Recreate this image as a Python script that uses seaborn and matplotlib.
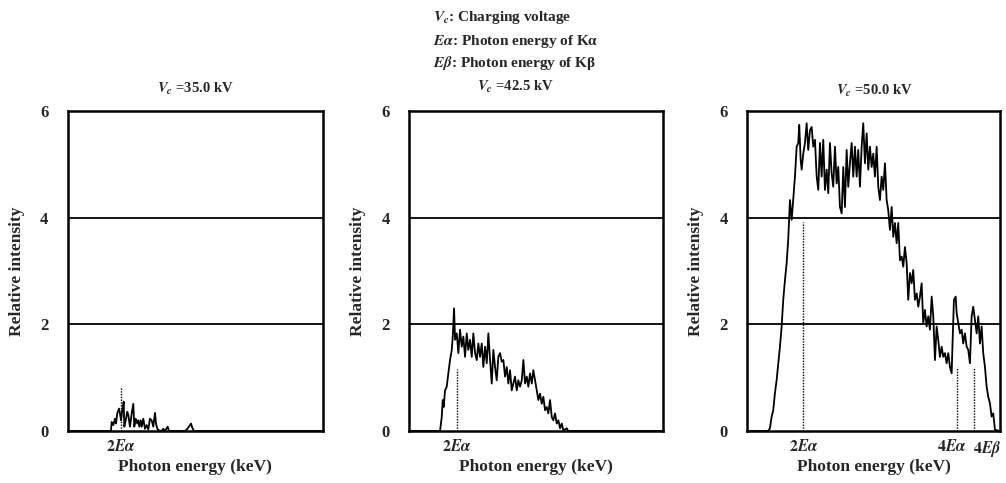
import matplotlib
matplotlib.use("Agg")
import matplotlib.pyplot as plt
import matplotlib.transforms as mtransforms
import numpy as np
import pandas as pd
import seaborn as sns

# --- Spectra (photon energy in keV, relative intensity) ---
P1_E = [22.0, 31.9, 32.08, 32.45, 32.84, 33.07, 33.36, 33.75, 33.98, 34.21,
        34.51, 34.83, 34.97, 35.29, 35.65, 35.88, 36.27, 36.66, 37.03, 37.26,
        37.58, 37.95, 38.17, 38.40, 38.72, 38.95, 39.32, 39.71, 40.10, 40.47,
        40.85, 41.24, 41.61, 42.00, 42.23, 42.53, 42.92, 43.54, 43.90, 44.29,
        44.91, 45.21, 48.87, 49.40, 49.86, 50.25, 50.55, 50.94, 80.5]
P1_I = [0, 0, 0.17, 0.11, 0.23, 0.14, 0.33, 0.42, 0.33, 0.2,
        0.39, 0.55, 0.08, 0.2, 0.36, 0.3, 0.08, 0.33, 0.51, 0.08,
        0.23, 0.14, 0.2, 0.08, 0.2, 0.08, 0.23, 0.04, 0.11, 0.03,
        0.23, 0.2, 0.08, 0.34, 0.14, 0.04, 0.01, 0, 0.04, 0,
        0.08, 0, 0, 0.04, 0.09, 0.14, 0.06, 0, 0]

P2_E = [22.0, 29.15, 29.54, 29.77, 30.0, 30.30, 30.69, 31.06, 31.45, 31.85,
        32.08, 32.38, 32.61, 33.00, 33.37, 33.76, 34.15, 34.52, 34.91, 35.31,
        35.67, 36.07, 36.46, 36.83, 37.22, 37.61, 37.98, 38.37, 38.76, 39.13,
        39.53, 39.92, 40.29, 40.68, 41.07, 41.44, 41.83, 42.22, 42.59, 42.98,
        43.38, 43.75, 44.14, 44.53, 44.90, 45.29, 45.68, 46.05, 46.44, 46.84,
        47.20, 47.60, 47.99, 48.36, 48.75, 49.14, 49.51, 49.90, 50.30, 50.66,
        51.06, 51.45, 51.82, 52.21, 52.60, 52.97, 53.36, 53.76, 54.12, 54.51,
        54.91, 55.28, 55.67, 56.06, 56.43, 56.82, 57.21, 57.58, 58.37, 58.73,
        80.5]
P2_I = [0, 0, 0.26, 0.58, 0.45, 0.76, 0.83, 1.08, 1.33, 1.52,
        1.77, 2.3, 1.71, 1.83, 1.46, 1.9, 1.58, 1.77, 1.39, 1.83,
        1.52, 1.71, 1.39, 1.83, 1.46, 1.33, 1.64, 1.39, 1.64, 1.2,
        1.58, 1.27, 1.83, 1.33, 0.89, 1.52, 1.2, 0.95, 1.39, 1.46,
        1.3, 1.33, 1.02, 1.2, 0.89, 1.14, 0.76, 0.89, 1.02, 0.76,
        0.95, 0.83, 0.95, 1.33, 0.89, 1.02, 0.83, 1.08, 0.89, 1.14,
        0.95, 0.76, 0.58, 0.7, 0.51, 0.64, 0.39, 0.45, 0.33, 0.58,
        0.26, 0.2, 0.33, 0.14, 0.2, 0.05, 0.14, 0.01, 0.05, 0,
        0]

P3_E = [22.0, 26.79, 27.25, 27.64, 28.01, 28.40, 28.80, 29.17, 29.56, 29.95,
        30.32, 30.72, 31.11, 31.48, 31.87, 32.27, 33.03, 33.42, 33.79, 34.02,
        34.35, 34.58, 34.95, 35.34, 35.73, 36.10, 36.50, 36.89, 37.26, 37.65,
        38.05, 38.42, 38.81, 39.20, 39.57, 39.96, 40.36, 40.73, 41.12, 41.51,
        41.88, 42.28, 42.67, 43.04, 43.43, 43.83, 44.20, 44.59, 44.98, 45.35,
        45.74, 46.14, 46.51, 46.90, 47.29, 47.66, 48.06, 48.45, 48.82, 49.21,
        49.61, 49.98, 50.37, 50.76, 51.13, 51.52, 51.92, 52.29, 52.68, 53.07,
        53.44, 53.84, 54.23, 54.60, 54.99, 55.39, 55.76, 56.15, 56.54, 56.91,
        57.30, 57.70, 58.07, 58.46, 58.85, 59.22, 59.62, 60.01, 60.38, 60.77,
        61.17, 61.54, 61.93, 62.32, 62.69, 63.08, 63.48, 63.85, 64.24, 64.64,
        65.01, 65.40, 65.79, 66.16, 66.55, 66.95, 67.32, 67.71, 68.10, 68.47,
        68.87, 69.26, 69.49, 69.79, 70.19, 70.42, 70.79, 71.18, 71.57, 71.94,
        72.33, 72.73, 73.10, 73.49, 73.88, 74.25, 74.64, 75.04, 75.41, 75.80,
        76.19, 76.56, 76.96, 77.35, 77.72, 78.11, 78.50, 78.88, 79.27, 80.5]
P3_I = [0, 0, 0.05, 0.27, 0.39, 0.71, 0.96, 1.27, 1.58, 1.96,
        2.46, 2.83, 3.15, 3.6, 4.33, 3.96, 4.77, 5.33, 5.4, 5.74,
        5.08, 4.9, 5.2, 5.4, 5.77, 5.27, 5.64, 5.7, 5.33, 5.46,
        4.77, 4.52, 5.4, 4.77, 5.46, 4.52, 4.9, 4.46, 5.4, 4.83,
        4.58, 5.33, 4.64, 4.95, 4.2, 4.08, 4.95, 4.2, 5.27, 4.58,
        5.02, 5.4, 4.77, 5.33, 4.77, 5.27, 4.58, 5.33, 5.77, 5.02,
        5.58, 4.9, 5.33, 4.95, 5.2, 4.77, 5.33, 4.58, 4.33, 4.77,
        4.52, 5.02, 4.33, 4.14, 3.77, 4.2, 3.64, 3.9, 3.52, 3.9,
        3.2, 3.27, 3.08, 3.45, 3.15, 2.46, 2.96, 2.77, 3.02, 2.46,
        2.58, 2.33, 2.52, 2.77, 2.02, 2.27, 1.96, 2.15, 1.9, 2.52,
        2.15, 1.33, 1.96, 1.71, 1.39, 1.58, 1.39, 1.46, 1.27, 1.46,
        1.2, 1.08, 1.71, 2.46, 2.52, 2.21, 2.02, 1.83, 1.9, 1.64,
        1.83, 1.58, 1.52, 1.27, 2.15, 2.33, 2.08, 1.83, 2.15, 1.64,
        1.96, 1.46, 1.2, 0.83, 0.64, 0.52, 0.27, 0.33, 0.02, 0]

# Characteristic-line markers (position in keV, height of dotted line)
MARK_X = [[34.21], [33.14], [35.0, 70.6, 74.4]]
MARK_TOP = [[0.83], [1.17], [3.92, 1.2, 1.2]]
MARK_LABELS = [[r"$2E\alpha$"], [r"$2E\alpha$"],
               [r"$2E\alpha$", r"$4E\alpha$", r"$4E\beta$"]]
# small horizontal nudges (px) so the crowded 4E labels don't collide
LABEL_SHIFT = [[0], [0], [0, -6, 13]]

VOLTAGES = ["35.0", "42.5", "50.0"]
Y_TICKS = [0, 2, 4, 6]
X_RANGE = (22.0, 80.5)

sns.set_theme(style="white")
plt.rcParams.update({
    "font.family": ["Liberation Serif", "DejaVu Serif"],
    "font.weight": "bold",
    "mathtext.fontset": "stix",
})

fig = plt.figure(figsize=(10.06, 4.83), dpi=100)

# axes boxes in figure fraction (left, bottom, width, height)
boxes = [
    (0.0673, 0.1077, 0.2538, 0.6625),
    (0.4066, 0.1077, 0.2522, 0.6625),
    (0.7428, 0.1077, 0.2515, 0.6625),
]
spectra = [(P1_E, P1_I), (P2_E, P2_I), (P3_E, P3_I)]
title_x = [195, 515, 874]
title_y = [89, 87, 91]

for k, (box, (energy, inten)) in enumerate(zip(boxes, spectra)):
    ax = fig.add_axes(box)
    df = pd.DataFrame({"energy": energy, "intensity": inten})
    sns.lineplot(data=df, x="energy", y="intensity", ax=ax, color="black",
                 linewidth=1.3, estimator=None, sort=False)

    for y in (2, 4):
        ax.axhline(y, color="black", linewidth=1.3, zorder=1)

    for mx, mt in zip(MARK_X[k], MARK_TOP[k]):
        ax.plot([mx, mx], [0, mt], color="black", linestyle=(0, (1, 1)),
                linewidth=1.0)

    ax.set_xlim(*X_RANGE)
    ax.set_ylim(0, 6)
    ax.set_yticks(Y_TICKS)
    ax.set_yticklabels([str(t) for t in Y_TICKS], fontsize=12, fontweight="bold")
    ax.set_xticks(MARK_X[k])
    ax.set_xticklabels(MARK_LABELS[k], fontsize=11.5)
    ax.tick_params(axis="both", length=0)
    ax.tick_params(axis="y", pad=14)
    ax.tick_params(axis="x", pad=6)
    for lab, dx in zip(ax.get_xticklabels(), LABEL_SHIFT[k]):
        if dx:
            lab.set_transform(lab.get_transform()
                              + mtransforms.ScaledTranslation(dx / 100, 0, fig.dpi_scale_trans))

    ax.set_xlabel("Photon energy (keV)", fontsize=12.5, fontweight="bold", va="top")
    ax.xaxis.set_label_coords(0.5, -0.088)
    ax.set_ylabel("Relative intensity", fontsize=12.5, fontweight="bold", labelpad=11)

    for side in ("top", "bottom", "left", "right"):
        ax.spines[side].set_visible(True)
        ax.spines[side].set_color("black")
        ax.spines[side].set_linewidth(1.8)

    fig.text(title_x[k] / 1006, 1 - title_y[k] / 483,
             r"$V_c$ =" + VOLTAGES[k] + " kV", ha="center", va="center",
             fontsize=10.5, fontweight="bold")

# header explaining the symbols
header = [
    r"$V_c$: Charging voltage",
    r"$E\alpha$: Photon energy of Kα",
    r"$E\beta$: Photon energy of Kβ",
]
for txt, yy in zip(header, [18, 41, 63]):
    fig.text(433 / 1006, 1 - yy / 483, txt, ha="left", va="center",
             fontsize=11, fontweight="bold")

fig.savefig("out.png", dpi=100)
